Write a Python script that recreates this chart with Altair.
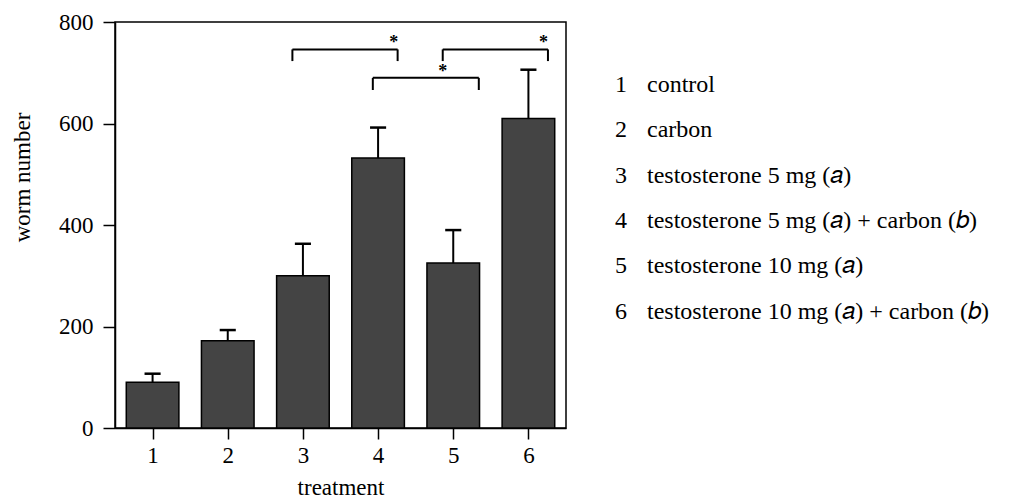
import altair as alt
import pandas as pd

treatments = [1, 2, 3, 4, 5, 6]
means = [90, 172, 300, 532, 325, 610]
err_tops = [107, 193, 363, 592, 390, 706]

br_left = [2.86, 3.93, 4.86]
br_right = [4.26, 5.34, 6.26]
br_top = [746, 690, 746]
br_bottom = [723, 666, 723]
star_x = [4.21, 4.86, 6.20]
star_y = [766, 709, 766]

legend_num = ["1", "2", "3", "4", "5", "6"]
legend_text = [
    "control",
    "carbon",
    "testosterone 5 mg (\U0001D44E)",
    "testosterone 5 mg (\U0001D44E) + carbon (\U0001D44F)",
    "testosterone 10 mg (\U0001D44E)",
    "testosterone 10 mg  (\U0001D44E) + carbon (\U0001D44F)",
]

FONT = "Liberation Serif"
FS = 23
LFS = 24

bars_df = pd.DataFrame({"t": treatments, "mean": means, "top": err_tops})
br_df = pd.DataFrame({"l": br_left, "r": br_right, "top": br_top, "bot": br_bottom})
star_df = pd.DataFrame({"x": star_x, "y": star_y})
leg_df = pd.DataFrame({"i": list(range(1, 7)), "num": legend_num, "txt": legend_text})

xscale = alt.Scale(domain=[0.5, 6.5], nice=False, zero=False)
yscale = alt.Scale(domain=[0, 800], nice=False)

xaxis = alt.Axis(values=treatments, title="treatment", format="d", grid=False,
                 tickSize=11, tickWidth=1.5, tickColor="black", domainColor="black",
                 domainWidth=1.5, labelFont=FONT, labelFontSize=FS, labelColor="black",
                 labelPadding=5, titleFont=FONT, titleFontSize=FS, titleFontWeight="normal",
                 titleColor="black", titlePadding=9)
yaxis = alt.Axis(values=[0, 200, 400, 600, 800], title="worm number", grid=False,
                 tickSize=12, tickWidth=1.5, tickColor="black", domainColor="black",
                 domainWidth=1.5, labelFont=FONT, labelFontSize=FS, labelColor="black",
                 labelPadding=10, titleFont=FONT, titleFontSize=FS, titleFontWeight="normal",
                 titleColor="black", titleX=-93, titleY=155, titleBaseline="middle")

base = alt.Chart(bars_df).transform_calculate(
    x0="datum.t - 0.35", x1="datum.t + 0.35",
    c0="datum.t - 0.107", c1="datum.t + 0.107")

bars = base.mark_bar(fill="#444444", stroke="black", strokeWidth=1.5).encode(
    x=alt.X("x0:Q", scale=xscale, axis=xaxis),
    x2="x1:Q",
    y=alt.Y("mean:Q", scale=yscale, axis=yaxis),
    y2=alt.datum(0),
)
stems = base.mark_rule(color="black", strokeWidth=2).encode(
    x=alt.X("t:Q", scale=xscale), y=alt.Y("mean:Q", scale=yscale), y2="top:Q")
caps = base.mark_rule(color="black", strokeWidth=2.5).encode(
    x=alt.X("c0:Q", scale=xscale), x2="c1:Q", y=alt.Y("top:Q", scale=yscale))

brk = alt.Chart(br_df)
br_h = brk.mark_rule(color="black", strokeWidth=2).encode(
    x=alt.X("l:Q", scale=xscale), x2="r:Q", y=alt.Y("top:Q", scale=yscale))
br_l = brk.mark_rule(color="black", strokeWidth=2).encode(
    x=alt.X("l:Q", scale=xscale), y=alt.Y("top:Q", scale=yscale), y2="bot:Q")
br_r = brk.mark_rule(color="black", strokeWidth=2).encode(
    x=alt.X("r:Q", scale=xscale), y=alt.Y("top:Q", scale=yscale), y2="bot:Q")
stars = alt.Chart(star_df).mark_text(text="*", font=FONT, fontSize=18, fontWeight="bold",
                                     color="black", baseline="middle", dy=4).encode(
    x=alt.X("x:Q", scale=xscale), y=alt.Y("y:Q", scale=yscale))

main = alt.layer(bars, stems, caps, br_h, br_l, br_r, stars).properties(
    width=451, height=406,
    view=alt.ViewBackground(stroke="black", strokeWidth=1.5))

lscale = alt.Scale(domain=[-0.39, 8.57], reverse=True, nice=False, zero=False)
leg_base = alt.Chart(leg_df)
leg_nums = leg_base.mark_text(font=FONT, fontSize=LFS, align="left", baseline="middle",
                              color="black").encode(
    x=alt.value(9), y=alt.Y("i:Q", scale=lscale, axis=None), text="num:N")
leg_txt = leg_base.mark_text(font=FONT, fontSize=LFS, align="left", baseline="middle",
                             color="black").encode(
    x=alt.value(41), y=alt.Y("i:Q", scale=lscale, axis=None), text="txt:N")
legend = alt.layer(leg_nums, leg_txt).properties(
    width=380, height=406, view=alt.ViewBackground(strokeWidth=0, stroke=None))

chart = alt.hconcat(main, legend, spacing=40, bounds="flush").properties(
    padding={"left": 2, "top": 2, "right": 0, "bottom": 0}
).configure(background="white")

chart.save("out.html", embed_options={"renderer": "svg", "actions": False})
